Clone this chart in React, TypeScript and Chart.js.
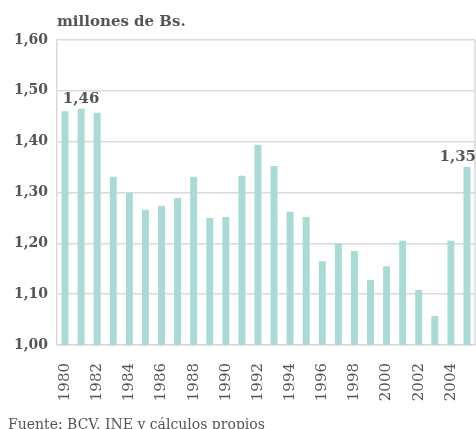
import React, { useEffect, useRef } from "react";
import { Chart, registerables } from "chart.js";

Chart.register(...registerables);

const years = [
  "1980","1981","1982","1983","1984","1985","1986","1987","1988","1989",
  "1990","1991","1992","1993","1994","1995","1996","1997","1998","1999",
  "2000","2001","2002","2003","2004","2005",
];
const values = [
  1.46, 1.465, 1.457, 1.331, 1.299, 1.266, 1.274, 1.289, 1.331, 1.25,
  1.252, 1.333, 1.394, 1.352, 1.262, 1.252, 1.165, 1.199, 1.185, 1.128,
  1.155, 1.205, 1.108, 1.057, 1.205, 1.35,
];
const labelled = [
  { index: 1, text: "1,46" },
  { index: 25, text: "1,35" },
];
const titleText = "millones de Bs.";
const footerText = "Fuente: BCV, INE y cálculos propios";

const FONT = "'DejaVu Serif', serif";
const TEXT = "#555555";

const overlay = {
  id: "overlay",
  afterDraw(chart: any) {
    const { ctx, chartArea } = chart;
    ctx.save();
    ctx.fillStyle = TEXT;
    ctx.textBaseline = "middle";
    ctx.textAlign = "left";
    ctx.font = `bold 15px ${FONT}`;
    ctx.fillText(titleText, chartArea.left, 22);
    ctx.font = `14px ${FONT}`;
    ctx.fillText(footerText, 8, 425);
    // right border
    ctx.strokeStyle = "#d9d9d9";
    ctx.lineWidth = 1.5;
    ctx.beginPath();
    ctx.moveTo(chartArea.right, chartArea.top);
    ctx.lineTo(chartArea.right, chartArea.bottom);
    ctx.stroke();
    // data labels
    const meta = chart.getDatasetMeta(0);
    ctx.font = `bold 15px ${FONT}`;
    ctx.textBaseline = "bottom";
    labelled.forEach((l) => {
      const el = meta.data[l.index];
      const w = ctx.measureText(l.text).width;
      let x = el.x - w / 2;
      if (x + w > chart.width) x = chart.width - w;
      ctx.textAlign = "left";
      ctx.fillText(l.text, x, el.y - 2);
    });
    ctx.restore();
  },
};

export default function App() {
  const ref = useRef<HTMLCanvasElement>(null);
  useEffect(() => {
    document.body.style.margin = "0";
    const chart = new Chart(ref.current!, {
      type: "bar",
      data: {
        labels: years,
        datasets: [
          {
            data: values,
            backgroundColor: "#a8dbd5",
            barPercentage: 0.9,
            categoryPercentage: 0.48,
          },
        ],
      },
      options: {
        animation: false,
        responsive: false,
        layout: { padding: { top: 40, right: 1, left: 0, bottom: 0 } },
        plugins: { legend: { display: false }, tooltip: { enabled: false } },
        scales: {
          x: {
            grid: { display: false },
            border: { color: "#d9d9d9", width: 1.5 },
            afterFit: (s: any) => {
              s.height = 84;
              s.paddingLeft = 0;
              s.paddingRight = 0;
            },
            ticks: {
              autoSkip: false,
              maxRotation: 90,
              minRotation: 90,
              color: TEXT,
              font: { family: FONT, size: 15 },
              padding: 10,
              callback: (_v: any, i: number) => (i % 2 === 0 ? years[i] : ""),
            },
          },
          y: {
            min: 1,
            max: 1.6,
            afterFit: (s: any) => {
              s.width = 57;
              s.paddingTop = 0;
              s.paddingBottom = 0;
            },
            border: { color: "#d9d9d9", width: 1.5 },
            grid: { color: "#d9d9d9", lineWidth: 1.5, drawTicks: false },
            ticks: {
              stepSize: 0.1,
              color: TEXT,
              padding: 9,
              font: { family: FONT, size: 14, weight: "bold" },
              callback: (v: any) => Number(v).toFixed(2).replace(".", ","),
            },
          },
        },
      },
      plugins: [overlay],
    });
    return () => chart.destroy();
  }, []);
  return <canvas ref={ref} width={476} height={429} style={{ display: "block" }} />;
}
